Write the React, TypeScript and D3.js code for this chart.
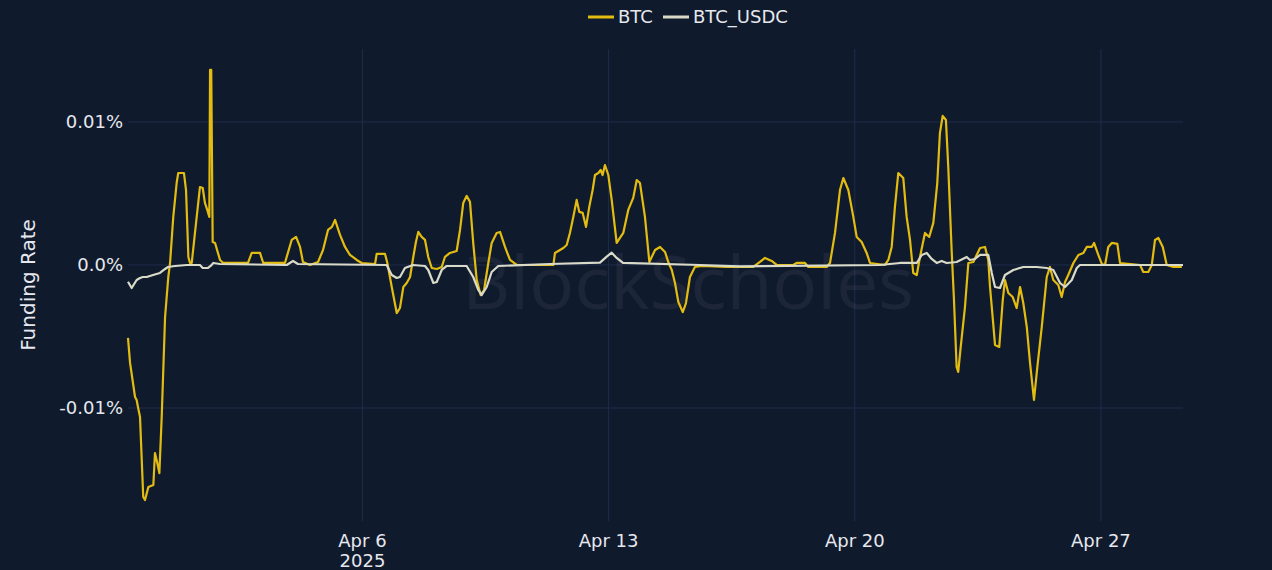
import React from "react";
import * as d3 from "d3";

// ---- data (hours since 2025-03-30 08:00 UTC, funding rate in %) ----
const btcHours = [0,1.4,4.8,5.9,6.8,8.2,10.4,11.6,13.9,17.3,18.4,20.0,21.4,23.0,25.3,27.5,28.7,30.9,33.2,34.3,38.2,39.6,41.2,42.3,43.5,45.7,49.1,51.0,52.5,54.1,55.5,56.0,56.8,57.8,59.4,62.8,65.0,81.9,84.4,90.1,92.3,107.1,111.7,114.7,117.4,119.4,124.2,129.7,133.1,136.5,139.2,141.3,144.7,148.1,151.5,156.1,159.5,168.6,169.7,175.4,177.0,180.0,183.4,185.6,187.9,190.2,192.5,194.7,196.5,198.1,200.4,202.7,204.9,207.3,210.7,214.1,216.3,219.7,224.3,226.6,228.8,231.1,233.4,235.6,238.0,240.7,243.0,245.9,248.2,251.6,253.9,257.3,260.7,265.3,290.3,291.4,294.8,297.1,299.4,301.6,303.9,306.2,308.0,310.3,312.6,314.8,317.1,318.7,321.0,322.6,323.9,325.5,327.8,330.1,333.5,338.0,341.4,344.8,347.2,349.4,352.8,355.8,359.7,363.1,366.5,368.7,371.1,373.3,375.6,378.6,380.8,383.5,386.9,391.5,408.6,417.7,426.7,431.3,434.7,439.3,442.7,454.0,456.3,462.0,464.3,476.8,479.1,482.5,485.9,488.2,491.6,495.0,497.3,500.7,504.1,506.4,516.6,518.9,521.2,523.4,525.7,529.1,531.4,533.7,535.9,538.3,540.5,543.9,546.8,549.6,552.3,554.1,556.0,558.2,559.8,562.1,563.7,565.5,566.6,568.3,571.2,573.5,576.9,581.5,584.9,587.1,588.3,590.1,591.7,594.6,597.0,598.5,600.8,603.8,606.5,608.8,611.0,613.4,615.6,618.3,620.6,623.6,627.0,629.2,631.5,634.9,637.2,639.5,641.7,645.2,648.6,652.0,654.3,657.7,659.3,662.2,664.6,666.8,669.0,671.4,675.2,677.0,690.7,692.9,696.3,698.7,700.9,703.2,706.2,708.9,713.4,719.2];
const btcValues = [-0.0051,-0.00685,-0.00923,-0.00944,-0.00993,-0.01063,-0.01622,-0.01643,-0.01552,-0.01538,-0.01315,-0.01385,-0.01455,-0.01063,-0.00364,-0.00084,0.00014,0.00336,0.00573,0.00643,0.00643,0.00524,0.00056,0.00014,0.00014,0.00224,0.00545,0.00538,0.00434,0.00385,0.00336,0.01364,0.01364,0.00161,0.00154,0.00035,0.00014,0.00014,0.00084,0.00084,0.00014,0.00014,0.00175,0.00196,0.00126,0.00021,0,0.00021,0.00105,0.00245,0.00266,0.00315,0.0021,0.00126,0.0007,0.00035,0.00014,0.00007,0.00077,0.00077,0.00014,-0.00154,-0.00336,-0.00301,-0.00154,-0.00126,-0.00084,0.00056,0.00161,0.00231,0.00196,0.00175,0.00056,-0.00021,-0.00028,-0.00014,0.00056,0.00084,0.00098,0.00245,0.00434,0.00483,0.00441,0.00154,-0.00105,-0.0021,-0.00175,0.00014,0.00154,0.00224,0.00231,0.00126,0.00035,0,0,0.00084,0.00105,0.00119,0.0014,0.00224,0.00336,0.00455,0.00371,0.00364,0.00266,0.00406,0.00524,0.00629,0.00643,0.00664,0.00629,0.00699,0.00629,0.00455,0.00154,0.00224,0.00385,0.00469,0.00594,0.00573,0.00336,0.00021,0.00105,0.00126,0.00091,0.00021,-0.00035,-0.00126,-0.00259,-0.00329,-0.00266,-0.00084,-0.00014,-0.00007,-0.00014,-0.00014,-0.00014,0.00021,0.00049,0.00028,0,0,0.00014,0.00014,-0.00014,-0.00014,0.00014,0.00224,0.00524,0.00608,0.00524,0.00336,0.00196,0.00161,0.00084,0.00014,0,0.00035,0.00126,0.00406,0.00643,0.00608,0.00336,0.00175,-0.00056,-0.0007,0.00056,0.00224,0.00196,0.00294,0.00573,0.00923,0.01042,0.01014,0.00685,0.00105,-0.00245,-0.00713,-0.00748,-0.00573,-0.00294,0.00014,0.00021,0.00119,0.00126,0.00035,-0.00154,-0.00364,-0.00559,-0.00573,-0.00245,-0.00105,-0.00196,-0.00224,-0.00301,-0.00154,-0.00266,-0.00434,-0.00685,-0.00944,-0.00713,-0.00434,-0.00084,-0.00014,-0.00105,-0.0014,-0.00224,-0.00119,-0.0007,0.00014,0.0007,0.00084,0.00126,0.00126,0.00154,0.0007,0.00007,0,0.00126,0.00154,0.00147,0.00014,0,-0.00049,-0.00049,0,0.00175,0.00189,0.00126,0,-0.00014,-0.00014];

const usdcHours = [0,2.5,5.9,8.2,10.2,12.8,17.1,21.8,25.3,27.3,32.1,40.1,49.1,51.0,54.6,56.4,58.2,62.8,108.3,112.6,116.0,176.5,180.0,183.4,185.6,189.0,194.5,202.7,204.9,208.4,210.7,214.1,217.5,231.1,235.6,239.1,241.4,244.8,248.2,252.7,288.0,322.1,326.7,330.1,333.5,337.8,390.4,417.7,513.2,526.8,538.3,541.7,545.1,548.5,551.9,555.3,558.7,565.5,572.4,574.6,578.0,581.5,587.1,589.5,591.7,595.1,598.5,604.2,611.0,620.2,627.0,631.5,636.1,639.5,644.1,647.5,649.7,720];
const usdcValues = [-0.00117,-0.00161,-0.00105,-0.00091,-0.00084,-0.00084,-0.0007,-0.00056,-0.00028,-0.00014,-0.00007,0,0,-0.00021,-0.00021,-0.00007,0.00014,0.00007,0,0.00028,0.00007,0,-0.0007,-0.00091,-0.00084,-0.00021,0,-0.00007,-0.00035,-0.00126,-0.00119,-0.00035,-0.00007,-0.00007,-0.00084,-0.00175,-0.0021,-0.00154,-0.00049,-0.00007,0.00007,0.00016,0.00058,0.00086,0.00049,0.00014,0,-0.0001,0,0.00014,0.00014,0.0007,0.00084,0.00042,0.00014,0.00028,0.00014,0.00021,0.00056,0.00035,0.00042,0.0007,0.0007,-0.00056,-0.00154,-0.00161,-0.0007,-0.00035,-0.00014,-0.00014,-0.00021,-0.00035,-0.00126,-0.00154,-0.00105,-0.00021,0,0];

const yTickValues = [-0.01, 0, 0.01];
const yTickLabels = ["-0.01%", "0.0%", "0.01%"];
const xTickDates = ["2025-04-06", "2025-04-13", "2025-04-20", "2025-04-27"];
const xTickLabels = [["Apr 6", "2025"], ["Apr 13"], ["Apr 20"], ["Apr 27"]];
const seriesNames = ["BTC", "BTC_USDC"];
const seriesColors = ["#e2bc10", "#d9dbc8"];

const W = 1272, H = 570;
const M = { left: 128, right: 1183, top: 49, bottom: 521 };
const START = Date.UTC(2025, 2, 30, 8);
const FONT = "'DejaVu Sans', Verdana, sans-serif";

export default function App() {
  const x = d3.scaleUtc()
    .domain([new Date(START), new Date(START + 720 * 3600e3)])
    .range([M.left, M.right]);
  const y = d3.scaleLinear().domain([-0.0179, 0.0151]).range([M.bottom, M.top]);
  const toDate = (h: number) => new Date(START + h * 3600e3);

  const line = d3.line<[number, number]>()
    .x((d) => x(toDate(d[0])))
    .y((d) => y(d[1]));

  const btc = btcHours.map((h, i) => [h, btcValues[i]] as [number, number]);
  const usdc = usdcHours.map((h, i) => [h, usdcValues[i]] as [number, number]);

  const gridColor = "#1f2c4a";
  const textColor = "#e6e8ee";

  return (
    <svg width={W} height={H} style={{ position: "absolute", left: 0, top: 0, background: "#101a2d" }} fontFamily={FONT}>
      <rect x={0} y={0} width={W} height={H} fill="#101a2d" />
      {yTickValues.map((v) => (
        <line key={"gy" + v} x1={M.left} x2={M.right} y1={y(v)} y2={y(v)} stroke={gridColor} strokeWidth={1} />
      ))}
      {xTickDates.map((d) => {
        const xx = x(new Date(d + "T00:00:00Z"));
        return <line key={"gx" + d} x1={xx} x2={xx} y1={M.top} y2={M.bottom} stroke={gridColor} strokeWidth={1} />;
      })}
      <text x={688} y={309} textAnchor="middle" fontSize={74} fontFamily="'Open Sans', sans-serif"
        fill="#ffffff" fillOpacity={0.055} textLength={452} lengthAdjust="spacingAndGlyphs">BlockScholes</text>
      <path d={line(btc) || ""} fill="none" stroke={seriesColors[0]} strokeWidth={2.2} strokeLinejoin="round" />
      <path d={line(usdc) || ""} fill="none" stroke={seriesColors[1]} strokeWidth={2.2} strokeLinejoin="round" />
      {yTickValues.map((v, i) => (
        <text key={"ty" + v} x={123} y={y(v)} dy="0.36em" textAnchor="end" fontSize={18} fill={textColor}>{yTickLabels[i]}</text>
      ))}
      {xTickDates.map((d, i) => {
        const xx = x(new Date(d + "T00:00:00Z"));
        return (
          <text key={"tx" + d} x={xx} y={547} textAnchor="middle" fontSize={18} fill={textColor}>
            {xTickLabels[i].map((s, j) => (
              <tspan key={j} x={xx} dy={j === 0 ? 0 : 20}>{s}</tspan>
            ))}
          </text>
        );
      })}
      <text transform={`translate(28,${(M.top + M.bottom) / 2}) rotate(-90)`} dy="0.35em" textAnchor="middle" fontSize={20} fill={textColor}>Funding Rate</text>
      <g>
        <line x1={588} x2={614} y1={17} y2={17} stroke={seriesColors[0]} strokeWidth={3} />
        <text x={618} y={23} fontSize={18} fill={textColor}>{seriesNames[0]}</text>
        <line x1={663} x2={689} y1={17} y2={17} stroke={seriesColors[1]} strokeWidth={3} />
        <text x={693} y={23} fontSize={18} fill={textColor}>{seriesNames[1]}</text>
      </g>
    </svg>
  );
}
